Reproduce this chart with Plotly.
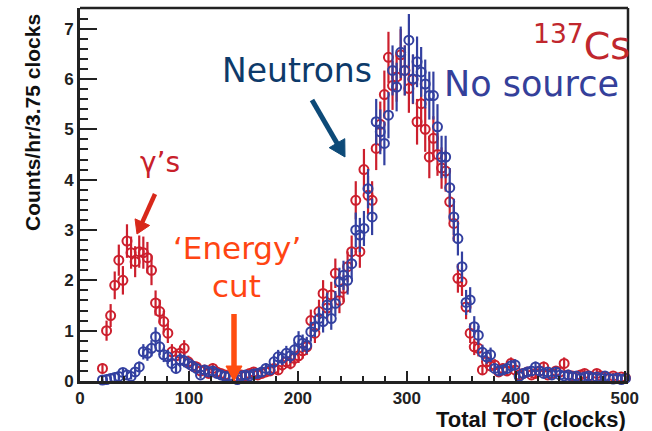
import numpy as np
import plotly.graph_objects as go

# ---- data -------------------------------------------------------------
bin_width = 3.75          # clocks per bin
first_bin = 5             # index of first filled bin
cs137 = [0.25, 1.0, 1.3, 1.9, 2.4, 2.0, 2.78, 2.55, 2.37, 2.57,
         2.55, 2.45, 2.2, 1.55, 1.38, 1.18, 0.95, 0.58, 0.5, 0.55,
         0.65, 0.38, 0.3, 0.28, 0.2, 0.22, 0.15, 0.25, 0.18, 0.15,
         0.12, 0.1, 0.05, 0.08, 0.12, 0.1, 0.15, 0.18, 0.12, 0.15,
         0.18, 0.2, 0.25, 0.22, 0.32, 0.38, 0.35, 0.45, 0.5, 0.6,
         0.68, 1.2, 0.95, 1.38, 1.74, 1.45, 1.71, 2.14, 1.6, 1.84,
         2.27, 2.57, 3.59, 2.57, 4.2, 3.69, 3.59, 4.62, 5.1, 5.69,
         6.43, 5.87, 6.04, 6.48, 6.17, 5.81, 5.99, 5.15, 5.51, 5.0,
         4.45, 4.82, 4.5, 4.23, 4.17, 3.56, 3.13, 2.04, 1.97, 1.47,
         0.95, 0.68, 0.65, 0.22, 0.38, 0.3, 0.32, 0.18, 0.25, 0.2,
         0.35, 0.22, 0.12, 0.15, 0.18, 0.12, 0.15, 0.2, 0.28, 0.12,
         0.15, 0.2, 0.18, 0.35, 0.12, 0.1, 0.08, 0.12, 0.15, 0.1,
         0.08, 0.15, 0.1, 0.08, 0.05, 0.1, 0.05, 0.08, 0.06]
no_source = [0.02, 0.03, 0.05, 0.07, 0.09, 0.17, 0.12, 0.09, 0.18, 0.28,
             0.58, 0.55, 0.65, 0.88, 0.68, 0.52, 0.48, 0.35, 0.25, 0.42,
             0.4, 0.35, 0.3, 0.25, 0.12, 0.22, 0.18, 0.2, 0.15, 0.12,
             0.09, 0.1, 0.05, 0.03, 0.1, 0.12, 0.1, 0.14, 0.15, 0.18,
             0.25, 0.22, 0.38, 0.48, 0.45, 0.55, 0.5, 0.62, 0.81, 0.75,
             0.71, 0.98, 1.08, 1.24, 1.18, 1.51, 1.24, 1.54, 1.97, 2.1,
             2.0, 2.33, 3.0, 2.9, 3.03, 3.82, 3.26, 5.15, 4.95, 4.72,
             5.28, 6.17, 5.84, 6.53, 6.17, 6.77, 6.0, 6.34, 6.14, 5.9,
             5.67, 5.67, 5.05, 4.45, 4.45, 3.84, 3.26, 2.83, 2.27, 1.56,
             1.61, 1.08, 0.91, 0.57, 0.48, 0.52, 0.25, 0.2, 0.22, 0.25,
             0.3, 0.32, 0.09, 0.15, 0.18, 0.2, 0.28, 0.2, 0.15, 0.18,
             0.12, 0.18, 0.12, 0.1, 0.12, 0.08, 0.1, 0.05, 0.08, 0.1,
             0.06, 0.08, 0.05, 0.1, 0.05, 0.04, 0.06, 0.03, 0.05]
rate_per_count = 0.04     # counts/hr represented by one raw count (Poisson errors)
x_ticks = [0, 100, 200, 300, 400, 500]
y_ticks = [0, 1, 2, 3, 4, 5, 6, 7]

nbins = len(cs137)
x_centers = bin_width * (np.arange(nbins) + first_bin) + bin_width / 2
cs_err = np.sqrt(np.array(cs137) * rate_per_count)
ns_err = np.sqrt(np.array(no_source) * rate_per_count)

RED = "#cc1f2d"
BLUE = "#3340a0"

fig = go.Figure()
for vals, errs, col in [(cs137, cs_err, RED), (no_source, ns_err, BLUE)]:
    fig.add_trace(go.Scatter(
        x=x_centers, y=vals, mode="markers",
        marker=dict(symbol="circle-open", size=9, color=col, line=dict(width=2, color=col)),
        error_y=dict(type="data", array=errs, visible=True, color=col, thickness=2.2, width=0),
        cliponaxis=False, showlegend=False, hoverinfo="skip"))

L, R, T, B = 80, 628, 8, 381
W, H = R - L, B - T
def px(x):
    return (x - L) / W
def py(y):
    return (B - y) / H

TEXTFONT = "DejaVu Sans"
ann = []
def text(s, x, y, size, color, **kw):
    ann.append(dict(text=s, x=px(x), y=py(y), xref="paper", yref="paper",
                    xanchor="center", yanchor="middle",
                    showarrow=False, font=dict(family=TEXTFONT, size=size, color=color), **kw))

text("γ’s", 160, 162, 28, "#c8202a")
text("‘Energy’", 237, 248, 31, "#ff4512")
text("cut", 236, 286, 31, "#ff4512")
text("Neutrons", 297, 70, 33, "#0d3a6a")
text("<sup>137</sup>Cs", 581, 43, 38, "#c0272d")
text("No source", 531, 84, 35, "#34409a")

shapes = [dict(type="line", xref="paper", yref="paper", x0=0, x1=1, y0=1, y1=1,
               line=dict(color="#222222", width=2.5)),
          dict(type="line", xref="paper", yref="paper", x0=1, x1=1, y0=0, y1=1,
               line=dict(color="#222222", width=2.5))]

def arrow(x0, y0, x1, y1, color, width, head_len, head_half):
    d = np.hypot(x1 - x0, y1 - y0)
    ux, uy = (x1 - x0) / d, (y1 - y0) / d
    bx, by = x1 - ux * head_len, y1 - uy * head_len
    nx, ny = -uy, ux
    shapes.append(dict(type="line", xref="paper", yref="paper",
                       x0=px(x0), y0=py(y0), x1=px(bx + ux), y1=py(by + uy),
                       line=dict(color=color, width=width)))
    pts = [(x1, y1), (bx + nx * head_half, by + ny * head_half),
           (bx - nx * head_half, by - ny * head_half)]
    path = "M " + " L ".join(f"{px(a):.5f},{py(b):.5f}" for a, b in pts) + " Z"
    shapes.append(dict(type="path", xref="paper", yref="paper", path=path,
                       fillcolor=color, line=dict(color=color, width=1)))

arrow(155, 194, 137, 234, "#d8281a", 4.5, 13, 8)
arrow(312, 100, 345, 157, "#0d4a78", 5, 16, 9)
arrow(234, 314, 234, 381, "#ff4d10", 5.5, 15, 8)

AXFONT = dict(family="Liberation Sans, Arial", size=17, color="#222222", weight="bold")
ann.append(dict(text="Total TOT (clocks)", x=1.0, y=py(419), xref="paper", yref="paper",
                xanchor="right", yanchor="middle", showarrow=False,
                font=dict(family="Liberation Sans, Arial", size=22, color="#111111", weight="bold")))
ann.append(dict(text="Counts/hr/3.75 clocks", x=px(32), y=py(123), xref="paper", yref="paper",
                xanchor="center", yanchor="middle",
                textangle=-90, showarrow=False,
                font=dict(family="Liberation Sans, Arial", size=21, color="#111111", weight="bold")))

fig.update_layout(
    width=652, height=431,
    margin=dict(l=L, r=652 - R, t=T, b=431 - B, pad=0),
    paper_bgcolor="white", plot_bgcolor="white",
    annotations=ann,
    shapes=shapes,
)
fig.update_xaxes(range=[0, 503], tickvals=x_ticks, ticks="inside", ticklen=10, tickwidth=2,
                 tickcolor="#222222", showline=True, linewidth=3, linecolor="#222222",
                 showgrid=False, zeroline=False, tickfont=AXFONT,
                 minor=dict(dtick=20, ticks="inside", ticklen=5, tickwidth=1.5, tickcolor="#222222"))
fig.update_yaxes(range=[0, 7.41], tickvals=y_ticks, ticks="inside", ticklen=17, tickwidth=2,
                 tickcolor="#222222", showline=True, linewidth=3, linecolor="#222222",
                 showgrid=False, zeroline=False, tickfont=AXFONT,
                 minor=dict(dtick=0.2, ticks="inside", ticklen=8, tickwidth=1.5, tickcolor="#222222"))

fig.write_html("out.html", config={"displayModeBar": False},
               post_script="document.body.style.margin='0';")
